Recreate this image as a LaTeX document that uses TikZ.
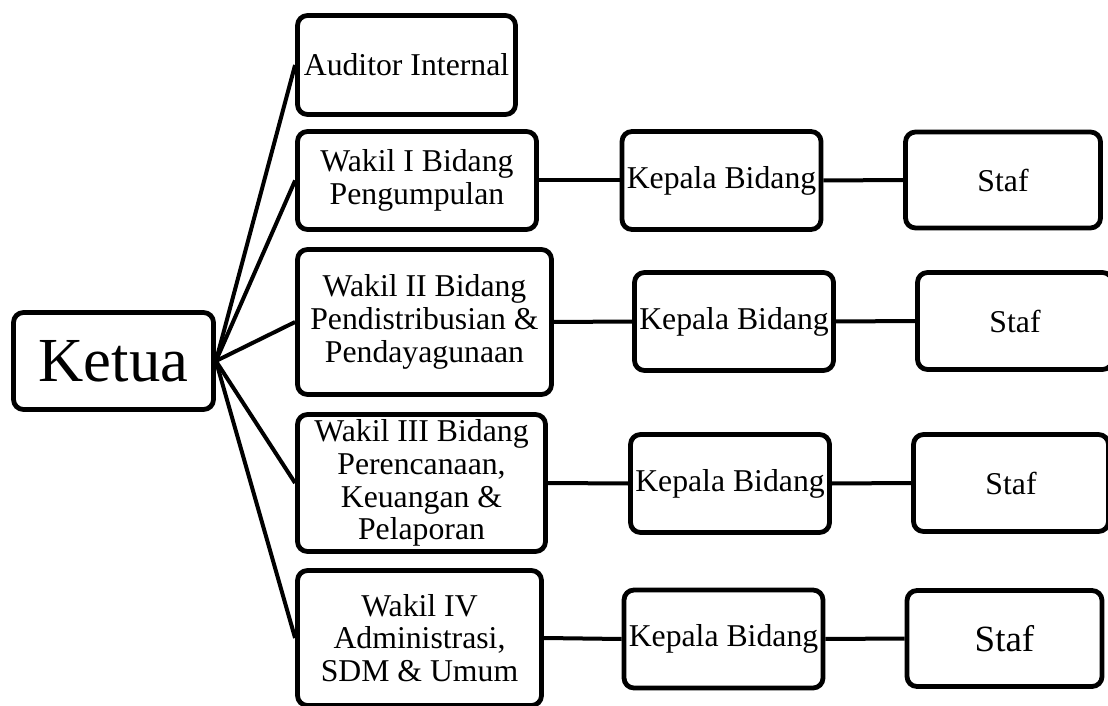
\documentclass[tikz,border=0pt]{standalone}
\usepackage{fontspec}
\setmainfont{Liberation Serif}
\begin{document}
\begin{tikzpicture}[x=0.75pt,y=-0.75pt,
  box/.style={draw, line width=3.6pt, rounded corners=7.5pt, inner sep=0pt, align=center,
    font=\fontsize{23.8}{24.6}\selectfont},
  sz/.style 2 args={minimum width=#1*0.75pt, minimum height=#2*0.75pt},
  conn/.style={line width=3pt}]
\useasboundingbox (0,0) rectangle (1108,706);
% left
\node[box, sz={200}{97}, font=\fontsize{47}{50}\selectfont] (ketua) at (113.5,361) {Ketua};
% middle column
\node[box, sz={218}{99}] (aud) at (406.5,65) {Auditor Internal};
\node[box, sz={239}{98}] (w1) at (417,180.5) {Wakil I Bidang\\Pengumpulan};
\node[box, sz={254}{145}] (w2) at (424.5,322) {Wakil II Bidang\\Pendistribusian \&\\Pendayagunaan};
\node[box, sz={248}{137}] (w3) at (421.5,483) {Wakil III Bidang\\Perencanaan,\\Keuangan \&\\Pelaporan};
\node[box, sz={244}{135}] (w4) at (419.5,638) {Wakil IV\\Administrasi,\\SDM \& Umum};
% kepala
\node[box, sz={199}{98}] (k1) at (721.5,180.5) {Kepala Bidang};
\node[box, sz={199}{98}] (k2) at (734,321.5) {Kepala Bidang};
\node[box, sz={199}{98}] (k3) at (730,483.5) {Kepala Bidang};
\node[box, sz={199}{98}] (k4) at (723.5,639) {Kepala Bidang};
% staf
\node[box, sz={195}{96}] (s1) at (1003,180) {Staf};
\node[box, sz={195}{97}] (s2) at (1015,321) {Staf};
\node[box, sz={195}{97}] (s3) at (1011,483) {Staf};
\node[box, sz={195}{96}, font=\fontsize{27.75}{30}\selectfont] (s4) at (1004.5,638.5) {Staf};
% connectors
\foreach \n in {aud,w1,w2,w3,w4} \draw[conn] (ketua.east) -- (\n.west);
\draw[conn] (w1.east) -- (k1.west);
\draw[conn] (w2.east) -- (k2.west);
\draw[conn] (w3.east) -- (k3.west);
\draw[conn] (w4.east) -- (k4.west);
\draw[conn] (k1.east) -- (s1.west);
\draw[conn] (k2.east) -- (s2.west);
\draw[conn] (k3.east) -- (s3.west);
\draw[conn] (k4.east) -- (s4.west);
\end{tikzpicture}
\end{document}
